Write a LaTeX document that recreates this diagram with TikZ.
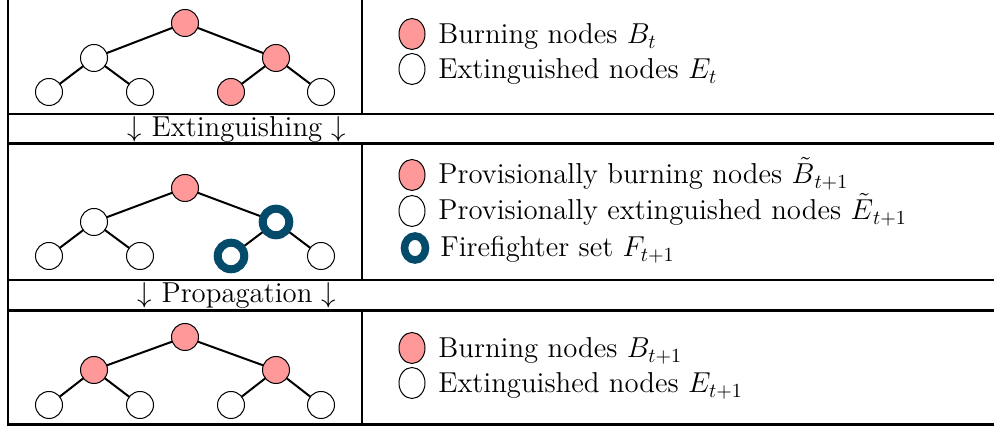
\documentclass[tikz,border=0pt]{standalone}
\usepackage{amsmath,amssymb}
\usetikzlibrary{shapes.geometric,backgrounds}
\definecolor{burn}{RGB}{255,153,153}
\definecolor{ffblue}{HTML}{044B6B}
\begin{document}
\begin{tikzpicture}[x=0.5pt,y=-0.5pt,
  tnode/.style={circle,draw=black,line width=0.5pt,minimum size=13.5pt,inner sep=0pt},
  burning/.style={tnode,fill=burn},
  extinct/.style={tnode,fill=white},
  fighter/.style={circle,draw=ffblue,line width=4pt,fill=white,minimum size=13.3pt,inner sep=0pt},
  tedge/.style={line width=1pt},
  rule/.style={line width=1pt},
  thickrule/.style={line width=1.5pt},
  lburn/.style={ellipse,draw=black,line width=0.5pt,fill=burn,minimum width=13pt,minimum height=15.5pt,inner sep=0pt},
  lext/.style={lburn,fill=white},
  lfight/.style={ellipse,draw=ffblue,line width=3.8pt,fill=white,minimum width=10.5pt,minimum height=12pt,inner sep=0pt},
  ltext/.style={anchor=base west,inner sep=0pt,font=\fontsize{14.4}{18}\selectfont},
  septext/.style={anchor=base,inner sep=0pt,font=\fontsize{14.4}{18}\selectfont}
]
\useasboundingbox (0,0) rectangle (994,431);

% table rules
\draw[rule] (8,0) -- (8,425);
\draw[rule] (362,0) -- (362,114);
\draw[rule] (362,144) -- (362,280);
\draw[rule] (362,311) -- (362,425);
\draw[rule] (7,114) -- (994,114);
\draw[thickrule] (7,144) -- (994,144);
\draw[rule] (7,280) -- (994,280);
\draw[thickrule] (7,311) -- (994,311);
\draw[thickrule] (7,425) -- (994,425);

% separators
\node[septext] (sep1) at (237,137) {$\downarrow$ Extinguishing $\downarrow$};
\node[septext] (sep2) at (237,303) {$\downarrow$ Propagation $\downarrow$};

% tree 1
\node[burning] (r1) at (185,23) {};
\node[extinct] (a1) at (94,58) {};
\node[burning] (b1) at (276,58) {};
\node[extinct] (a1l) at (49,92) {};
\node[extinct] (a1r) at (140,92) {};
\node[burning] (b1l) at (231,92) {};
\node[extinct] (b1r) at (321,92) {};

% tree 2
\node[burning] (r2) at (185,188) {};
\node[extinct] (a2) at (94,222) {};
\node[fighter] (b2) at (276,222) {};
\node[extinct] (a2l) at (49,256) {};
\node[extinct] (a2r) at (140,256) {};
\node[fighter] (b2l) at (231,256) {};
\node[extinct] (b2r) at (321,256) {};

% tree 3
\node[burning] (r3) at (185,337) {};
\node[burning] (a3) at (94,370) {};
\node[burning] (b3) at (276,370) {};
\node[extinct] (a3l) at (49,405) {};
\node[extinct] (a3r) at (140,405) {};
\node[extinct] (b3l) at (231,405) {};
\node[extinct] (b3r) at (321,405) {};

\begin{scope}[on background layer]
\foreach \t in {1,2,3}{
  \draw[tedge] (r\t.center) -- (a\t.center);
  \draw[tedge] (r\t.center) -- (b\t.center);
  \draw[tedge] (a\t.center) -- (a\t l.center);
  \draw[tedge] (a\t.center) -- (a\t r.center);
  \draw[tedge] (b\t.center) -- (b\t l.center);
  \draw[tedge] (b\t.center) -- (b\t r.center);
}
\end{scope}

% legends
\node[lburn] (l1a) at (412,34) {};
\node[ltext] (t1a) at (438,44) {Burning nodes $B_t$};
\node[lext] (l1b) at (412,69) {};
\node[ltext] (t1b) at (438,79) {Extinguished nodes $E_t$};

\node[lburn] (l2a) at (412,175) {};
\node[ltext] (t2a) at (438,184) {Provisionally burning nodes $\smash[t]{\tilde{B}}_{t+1}$};
\node[lext] (l2b) at (412,211) {};
\node[ltext] (t2b) at (438,220) {Provisionally extinguished nodes $\smash[t]{\tilde{E}}_{t+1}$};
\node[lfight] (l2c) at (415,248) {};
\node[ltext] (t2c) at (440,257) {Firefighter set $F_{t+1}$};

\node[lburn] (l3a) at (412,348) {};
\node[ltext] (t3a) at (438,358) {Burning nodes $B_{t+1}$};
\node[lext] (l3b) at (412,383) {};
\node[ltext] (t3b) at (438,393) {Extinguished nodes $E_{t+1}$};
\end{tikzpicture}
\end{document}
